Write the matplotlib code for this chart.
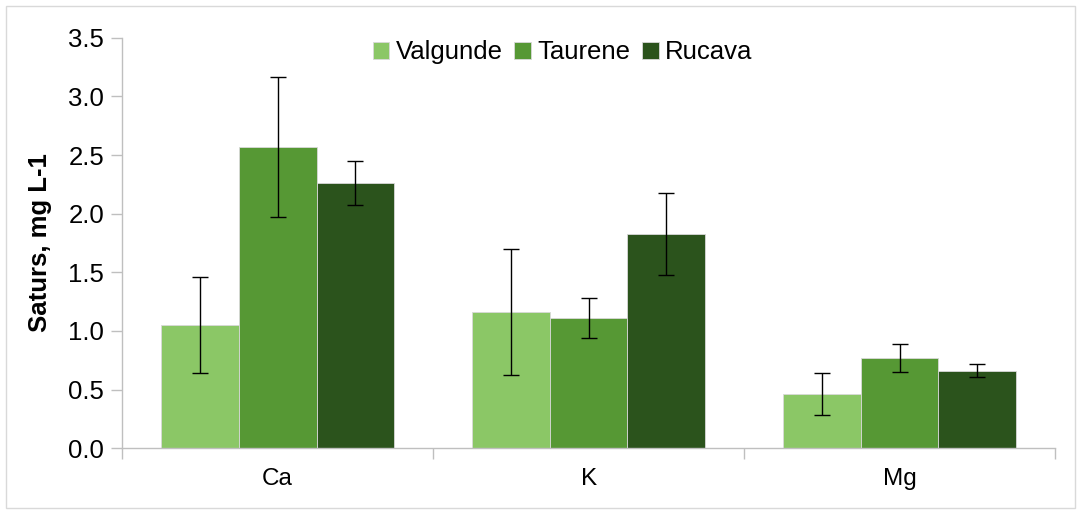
import matplotlib
matplotlib.use("Agg")
import matplotlib.pyplot as plt
import numpy as np

categories = ["Ca", "K", "Mg"]
series = ["Valgunde", "Taurene", "Rucava"]
valgunde = [1.05, 1.16, 0.46]
taurene = [2.57, 1.11, 0.77]
rucava = [2.26, 1.83, 0.66]
valgunde_err = [0.41, 0.54, 0.18]
taurene_err = [0.60, 0.17, 0.12]
rucava_err = [0.19, 0.35, 0.055]
colors = ["#8BC766", "#569834", "#2B531C"]

plt.rcParams['font.family'] = ['Liberation Sans', 'DejaVu Sans']

fig = plt.figure(figsize=(10.81, 5.11), dpi=100)
ax = fig.add_axes([0.113, 0.123, 0.863, 0.803])

x = np.arange(len(categories))
w = 0.25
vals = [valgunde, taurene, rucava]
errs = [valgunde_err, taurene_err, rucava_err]
for i, (name, v, e, c) in enumerate(zip(series, vals, errs, colors)):
    ax.bar(x + (i - 1) * w, v, w, color=c, edgecolor="#d9d9d9", linewidth=0.6,
           label=name, zorder=2)
    ax.errorbar(x + (i - 1) * w, v, yerr=e, fmt="none", ecolor="black",
                elinewidth=1, capsize=6, capthick=1, zorder=3)

ax.set_xlim(-0.5, 2.5)
ax.set_ylim(0, 3.5)
yt = np.arange(0, 3.51, 0.5)
ax.set_yticks(yt)
ax.set_yticklabels([f"{t:.1f}" for t in yt], fontsize=18.5)
ax.set_xticks(x)
ax.set_xticklabels(categories, fontsize=17.5)
ax.set_xticks([-0.5, 0.5, 1.5, 2.5], minor=True)
ax.tick_params(axis="x", which="major", length=0, pad=14)
ax.tick_params(axis="x", which="minor", length=8, color="#bfbfbf", width=1)
ax.tick_params(axis="y", length=8, color="#bfbfbf", width=1, pad=5)

for s in ["top", "right"]:
    ax.spines[s].set_visible(False)
for s in ["left", "bottom"]:
    ax.spines[s].set_color("#bfbfbf")
    ax.spines[s].set_linewidth(1)

ax.set_ylabel("Saturs, mg L-1", fontsize=18.5, fontweight="bold", labelpad=12)

ax.legend(loc="upper center", bbox_to_anchor=(0.472, 1.05), ncol=3, frameon=False,
          fontsize=18.5, handlelength=0.65, handleheight=0.65, handletextpad=0.25,
          columnspacing=0.45)

fig.patches.append(plt.Rectangle((0.006, 0.006), 0.988, 0.982, transform=fig.transFigure,
                                 fill=False, edgecolor="#d9d9d9", linewidth=1))

fig.savefig("out.png", dpi=100)
